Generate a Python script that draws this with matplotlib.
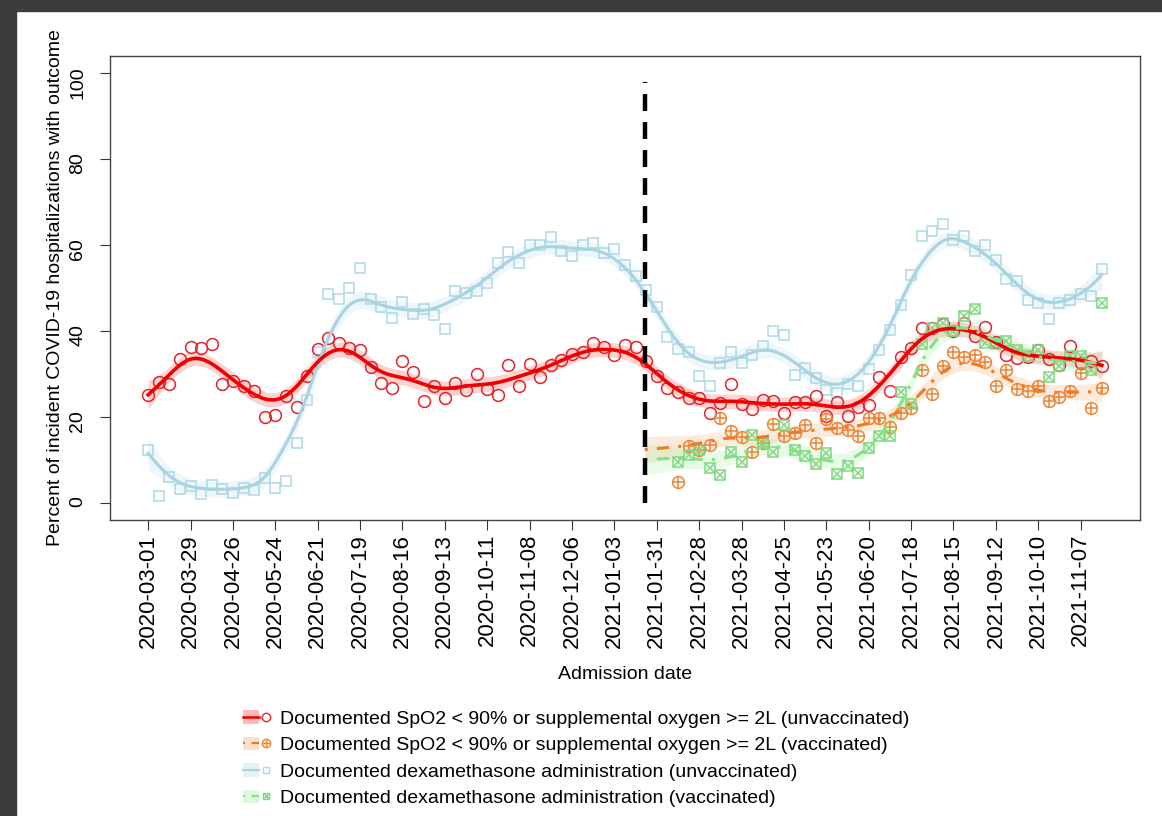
import numpy as np
import pandas as pd
import matplotlib
matplotlib.use("Agg")
import matplotlib.pyplot as plt
import matplotlib.dates as mdates
from matplotlib.lines import Line2D
from matplotlib.patches import Patch, Rectangle
from matplotlib.legend_handler import HandlerTuple

plt.rcParams['font.family'] = ['Liberation Sans', 'DejaVu Sans']
plt.rcParams['font.size'] = 14

# weekly admission cohorts, Sunday starts
weeks = pd.date_range('2020-03-01', periods=91, freq='7D')
vax_weeks = weeks[50:]
vax_start = pd.Timestamp('2021-01-23')
tick_dates = pd.date_range('2020-03-01', '2021-11-07', freq='28D')

# % with SpO2 < 90% or O2 >= 2L
hypox_unvax = [25.1, 28.1, 27.7, 33.5, 36.3, 36.1, 37.0, 27.6, 28.4, 27.3,
               26.1, 19.9, 20.4, 24.8, 22.4, 29.5, 35.9, 38.3, 37.1, 36.0,
               35.6, 31.7, 27.9, 26.8, 32.9, 30.5, 23.6, 27.1, 24.4, 27.9,
               26.3, 30.0, 26.5, 25.0, 32.0, 27.2, 32.3, 29.2, 32.1, 33.3,
               34.6, 35.0, 37.1, 36.2, 34.4, 36.7, 36.3, 32.9, 29.5, 26.8,
               25.9, 24.5, 24.3, 21.0, 23.3, 27.6, 23.1, 21.8, 23.9, 23.8,
               20.9, 23.4, 23.5, 24.9, 20.1, 23.4, 20.1, 22.2, 22.7, 29.2,
               26.1, 33.9, 36.1, 40.7, 40.6, 41.7, 40.0, 41.8, 38.8, 41.0,
               37.5, 34.4, 33.6, 34.0, 35.5, 33.4, 32.1, 36.6, 32.5, 32.9,
               31.9]
hypox_vax = [4.8, 13.3, 12.4, 13.4, 19.7, 16.6, 15.3, 11.8, 14.0, 18.3,
             15.6, 16.3, 18.0, 13.9, 19.6, 17.4, 17.0, 15.6, 19.7, 19.7,
             17.7, 21.0, 22.1, 30.8, 25.3, 31.9, 35.0, 34.0, 34.4, 32.7,
             27.1, 30.8, 26.5, 26.1, 27.3, 23.6, 24.6, 26.1, 30.3, 22.1,
             26.7]

# % given dexamethasone
dexa_unvax = [12.4, 1.6, 6.1, 3.1, 3.9, 2.0, 4.1, 3.1, 2.4, 3.5,
              2.9, 5.8, 3.4, 5.1, 13.9, 24.0, 35.2, 48.5, 47.5, 50.0,
              54.7, 47.5, 45.5, 43.1, 46.8, 43.9, 45.0, 43.8, 40.5, 49.2,
              48.9, 49.3, 51.2, 55.8, 58.4, 55.8, 60.1, 60.1, 61.8, 58.7,
              57.4, 60.1, 60.4, 58.1, 59.1, 55.4, 52.7, 49.5, 45.6, 38.7,
              35.8, 35.2, 29.6, 27.1, 32.5, 35.0, 32.5, 34.4, 36.6, 39.9,
              39.1, 29.8, 31.3, 29.0, 26.2, 25.5, 27.6, 27.2, 31.1, 35.6,
              40.3, 46.0, 53.0, 62.0, 63.2, 64.8, 61.1, 62.1, 58.5, 60.1,
              56.6, 52.0, 51.6, 47.2, 46.5, 42.7, 46.5, 47.2, 48.5, 48.1,
              54.5]
dexa_vax = [9.5, 11.1, 12.4, 8.1, 6.5, 11.9, 9.6, 15.9, 14.0, 11.9,
            18.0, 12.4, 10.8, 9.1, 11.5, 6.8, 8.5, 6.9, 12.8, 15.5,
            15.6, 25.7, 23.1, 37.0, 40.6, 41.9, 40.0, 43.5, 45.2, 37.3,
            37.0, 37.7, 35.6, 34.2, 35.6, 29.4, 31.9, 34.1, 34.2, 30.8,
            46.6]


def smooth(x, y, grid, bw, degree=1, robust=2):
    """Robust Gaussian kernel smoother (local constant or linear) with 95% band."""
    x = np.asarray(x, float)
    y = np.asarray(y, float)
    rw = np.ones_like(x)

    def row(g):
        w = rw * np.exp(-0.5 * ((x - g) / bw) ** 2)
        X = np.column_stack([(x - g) ** k for k in range(degree + 1)])
        XtW = X.T * w
        return np.linalg.solve(XtW @ X, XtW)[0]

    for it in range(robust + 1):
        L_obs = np.array([row(g) for g in x])
        resid = y - L_obs @ y
        if it < robust:
            s = np.median(np.abs(resid))
            u = np.clip(resid / (6 * s), -1, 1)
            rw = (1 - u ** 2) ** 2
    sigma = np.sqrt(np.sum(rw * resid ** 2) / (np.sum(rw) - np.trace(L_obs)))
    L = np.array([row(g) for g in grid])
    fit = L @ y
    se = sigma * np.sqrt((L ** 2).sum(axis=1))
    return fit, fit - 1.96 * se, fit + 1.96 * se


xu = mdates.date2num(weeks)
xv = mdates.date2num(vax_weeks)
grid_u = np.linspace(xu[0], xu[-1], 500)
grid_v = np.linspace(mdates.date2num(vax_start), xv[-1], 300)

dashdot = (0, (1, 3, 4, 3))
series = [
    dict(y=dexa_unvax, x=xu, g=grid_u, bw=12, deg=1, lc='#a9d3e0', bc='#add8e6', ba=0.22,
         ls='-', lw=2.2, mc='#add8e6', m='sq'),
    dict(y=hypox_unvax, x=xu, g=grid_u, bw=12, deg=1, lc='#ee0000', bc='#ff0000', ba=0.18,
         ls='-', lw=2.6, mc='#e3242b', m='o'),
    dict(y=hypox_vax, x=xv, g=grid_v, bw=14, deg=0, lc='#ee7a22', bc='#f5a060', ba=0.22,
         ls=dashdot, lw=2.2, mc='#ee8434', m='oplus'),
    dict(y=dexa_vax, x=xv, g=grid_v, bw=14, deg=0, lc='#86e086', bc='#98ee98', ba=0.22,
         ls=dashdot, lw=2.2, mc='#80d880', m='sqx'),
]

fig = plt.figure(figsize=(11.62, 8.16), dpi=100)
fig.patches.append(Rectangle((0, 1 - 11 / 816), 1, 11 / 816, transform=fig.transFigure,
                             color='#3c3c3c', zorder=0))
fig.patches.append(Rectangle((0, 0), 16 / 1162, 1, transform=fig.transFigure,
                             color='#3c3c3c', zorder=0))
ax = fig.add_axes([110 / 1162, 1 - 520 / 816, 1030 / 1162, 464 / 816])

for s in series:
    fit, lo, hi = smooth(s['x'], s['y'], s['g'], s['bw'], degree=s['deg'])
    ax.fill_between(s['g'], lo, hi, color=s['bc'], alpha=s['ba'], lw=0, zorder=1)
    s['fit'] = fit

for s in series:
    mk = dict(ls='none', mfc='none', mew=1.1, color=s['mc'], zorder=3)
    if s['m'] == 'o':
        ax.plot(s['x'], s['y'], marker='o', ms=8.5, **mk)
    elif s['m'] == 'oplus':
        ax.plot(s['x'], s['y'], marker='o', ms=8.5, **mk)
        ax.plot(s['x'], s['y'], marker='+', ms=8.5, **mk)
    elif s['m'] == 'sq':
        ax.plot(s['x'], s['y'], marker='s', ms=7.5, **mk)
    else:
        ax.plot(s['x'], s['y'], marker='s', ms=7.5, **mk)
        ax.plot(s['x'], s['y'], marker='x', ms=7.5, **mk)
    ax.plot(s['g'], s['fit'], color=s['lc'], lw=s['lw'], ls=s['ls'], zorder=4)

ax.plot([mdates.date2num(vax_start)] * 2, [0, 98], color='black', lw=3.2,
        ls=(0, (3.8, 2.5)), zorder=5)

pad = 3.6 * 7
ax.set_xlim(xu[0] - pad, xu[-1] + pad)
ax.set_ylim(-4, 104)
ax.set_xticks(mdates.date2num(tick_dates))
ax.set_xticklabels([d.strftime('%Y-%m-%d') for d in tick_dates], rotation=90, fontsize=16)
ax.set_yticks([0, 20, 40, 60, 80, 100])
ax.tick_params(axis='y', labelrotation=90, pad=10, length=7, color='#333333')
ax.tick_params(axis='x', pad=3, length=7, color='#333333')
for sp in ax.spines.values():
    sp.set_color('#444444')
    sp.set_linewidth(1.0)

ax.set_xlabel('Admission date', labelpad=13)
ax.set_ylabel('Percent of incident COVID-19 hospitalizations with outcome', labelpad=4)


# legend: band + line, then the marker
def mk_handle(s, ms):
    kw = dict(ls='none', mfc='none', mew=1.0, color=s['mc'])
    if s['m'] == 'o':
        mark = Line2D([], [], marker='o', ms=ms, **kw)
    elif s['m'] == 'oplus':
        mark = (Line2D([], [], marker='o', ms=ms, **kw), Line2D([], [], marker='+', ms=ms, **kw))
    elif s['m'] == 'sq':
        mark = Line2D([], [], marker='s', ms=ms - 1, **kw)
    else:
        mark = (Line2D([], [], marker='s', ms=ms - 1, **kw), Line2D([], [], marker='x', ms=ms - 1, **kw))
    band = (Patch(fc=s['bc'], alpha=s['ba'] + 0.1, lw=0),
            Line2D([], [], color=s['lc'], lw=s['lw'] * 0.7, ls=s['ls']))
    return (band, mark)


labels = [
    'Documented SpO2 < 90% or supplemental oxygen >= 2L (unvaccinated)',
    'Documented SpO2 < 90% or supplemental oxygen >= 2L (vaccinated)',
    'Documented dexamethasone administration (unvaccinated)',
    'Documented dexamethasone administration (vaccinated)',
]
order = [1, 2, 0, 3]
handles = [mk_handle(series[i], 6) for i in order]
fig.legend(handles, labels, loc='upper left', bbox_to_anchor=(243 / 1162, 1 - 710 / 816),
           frameon=False, borderpad=0, borderaxespad=0, handlelength=1.6,
           handletextpad=0.3, labelspacing=0.46,
           handler_map={h: HandlerTuple(ndivide=None, pad=0) for h in handles})

fig.savefig('out.png', dpi=100)
